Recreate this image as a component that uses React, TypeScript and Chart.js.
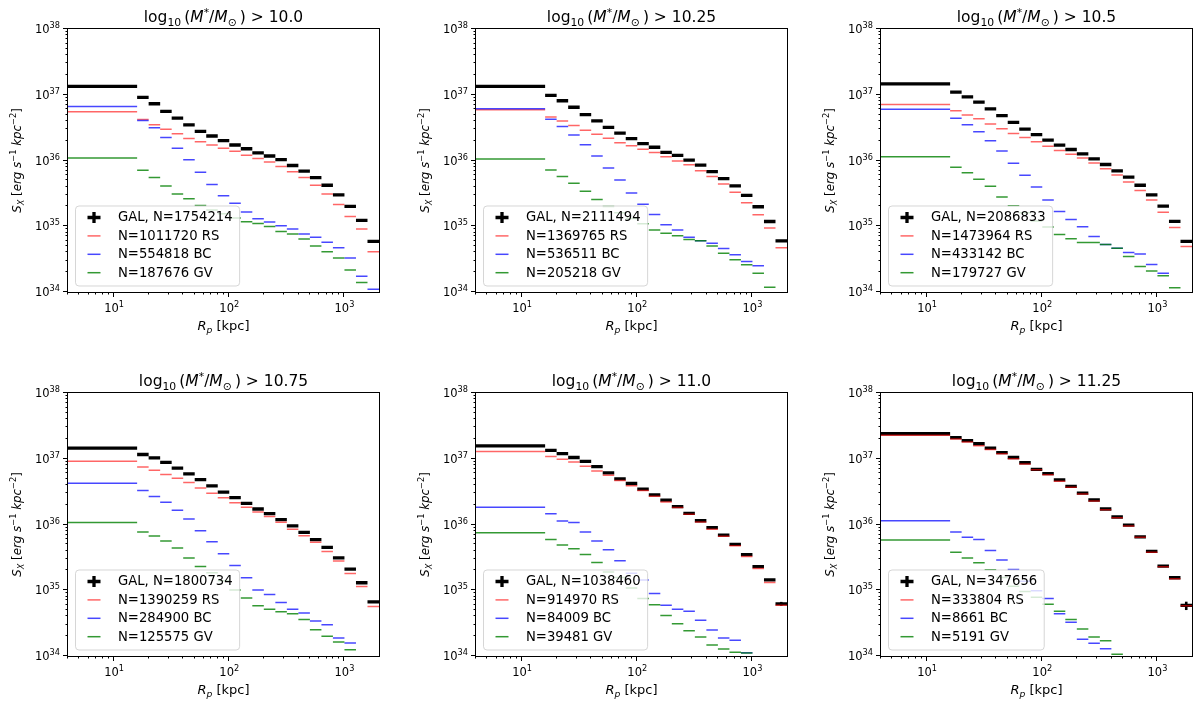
import React, { useEffect, useRef } from 'react';
import { Chart, registerables } from 'chart.js';

Chart.register(...registerables);

// radial bins (kpc); first bin starts inside the plot's left limit
const binEdges = [1, 15.85, 19.95, 25.12, 31.62, 39.81, 50.12, 63.1, 79.43, 100, 125.9, 158.5, 199.5, 251.2, 316.2, 398.1, 501.2, 631.0, 794.3, 1000, 1259, 1585, 1995];
const xLimits = [3.98, 1995];
const yLimits = [1e34, 1e38];
const xTickValues = [10, 100, 1000];
const xTickExps = ['1', '2', '3'];
const xMinorDecades = [1, 10, 100, 1000];
const yTickValues = [1e34, 1e35, 1e36, 1e37, 1e38];
const yTickExps = ['34', '35', '36', '37', '38'];

const thresholds = ['10.0', '10.25', '10.5', '10.75', '11.0', '11.25'];
const galCounts = [1754214, 2111494, 2086833, 1800734, 1038460, 347656];
const rsCounts = [1011720, 1369765, 1473964, 1390259, 914970, 333804];
const bcCounts = [554818, 536511, 433142, 284900, 84009, 8661];
const gvCounts = [187676, 205218, 179727, 125575, 39481, 5191];

// S_X per bin, erg s^-1 kpc^-2
const gal1 = [1.34e37, 9.1e36, 7.3e36, 5.6e36, 4.4e36, 3.47e36, 2.77e36, 2.36e36, 2.0e36, 1.72e36, 1.51e36, 1.31e36, 1.17e36, 1.03e36, 8.4e35, 6.9e35, 5.5e35, 4.2e35, 2.99e35, 2.0e35, 1.23e35, 5.9e34];
const rs1 = [5.5e36, 4.2e36, 3.5e36, 3.0e36, 2.56e36, 2.17e36, 1.93e36, 1.72e36, 1.53e36, 1.38e36, 1.2e36, 1.07e36, 9.5e35, 8.1e35, 6.76e35, 5.5e35, 4.2e35, 3.1e35, 2.15e35, 1.41e35, 9.1e34, 4.1e34];
const bc1 = [6.6e36, 4.07e36, 3.16e36, 2.23e36, 1.53e36, 1.03e36, 6.6e35, 4.3e35, 2.9e35, 2.24e35, 1.65e35, 1.3e35, 1.16e35, 1.02e35, 9.1e34, 7.6e34, 6.8e34, 5.7e34, 4.7e34, 3.3e34, 1.73e34, 1.1e34];
const gv1 = [1.09e36, 7.1e35, 5.5e35, 4.1e35, 3.1e35, 2.63e35, 2.07e35, 1.77e35, 1.55e35, 1.33e35, 1.17e35, 1.1e35, 9.9e34, 8.3e34, 7.6e34, 6.4e34, 5.0e34, 4.1e34, 3.3e34, 2.16e34, 1.4e34, null];

const gal2 = [1.34e37, 9.75e36, 8.1e36, 6.46e36, 5.0e36, 4.0e36, 3.2e36, 2.6e36, 2.15e36, 1.81e36, 1.59e36, 1.33e36, 1.2e36, 1.01e36, 8.5e35, 6.76e35, 5.3e35, 4.1e35, 2.94e35, 1.98e35, 1.18e35, 6.0e34];
const rs2 = [5.9e36, 4.6e36, 4.0e36, 3.4e36, 2.88e36, 2.5e36, 2.18e36, 1.87e36, 1.68e36, 1.48e36, 1.32e36, 1.14e36, 9.8e35, 8.6e35, 7.0e35, 5.7e35, 4.4e35, 3.3e35, 2.28e35, 1.49e35, 9.4e34, 4.7e34];
const bc2 = [6.1e36, 4.25e36, 3.3e36, 2.45e36, 1.74e36, 1.17e36, 7.7e35, 5.05e35, 3.2e35, 2.17e35, 1.51e35, 1.05e35, 8.8e34, 6.8e34, 6.0e34, 5.5e34, 4.6e34, 3.7e34, 2.9e34, 2.5e34, null, null];
const gv2 = [1.05e36, 7.2e35, 5.7e35, 4.5e35, 3.4e35, 2.56e35, 2.0e35, 1.6e35, 1.31e35, 1.09e35, 8.8e34, 7.85e34, 7.2e34, 6.3e34, 6.0e34, 5.0e34, 3.9e34, 3.1e34, 2.6e34, 1.93e34, 1.18e34, null];

const gal3 = [1.46e37, 1.1e37, 9.3e36, 7.7e36, 6.1e36, 4.8e36, 3.8e36, 3.0e36, 2.47e36, 2.04e36, 1.71e36, 1.47e36, 1.26e36, 1.06e36, 8.7e35, 6.95e35, 5.6e35, 4.2e35, 3.0e35, 2.03e35, 1.19e35, 5.9e34];
const rs3 = [7.1e36, 5.7e36, 4.9e36, 4.3e36, 3.6e36, 3.04e36, 2.58e36, 2.24e36, 1.93e36, 1.64e36, 1.42e36, 1.25e36, 1.09e36, 9.2e35, 7.5e35, 6.0e35, 4.7e35, 3.5e35, 2.5e35, 1.63e35, 9.6e34, 4.9e34];
const bc3 = [6.0e36, 4.4e36, 3.5e36, 2.74e36, 2.0e36, 1.39e36, 9.1e35, 5.97e35, 3.96e35, 2.5e35, 1.68e35, 1.27e35, 9.8e34, 7.0e34, 5.3e34, 4.64e34, 3.98e34, 3.8e34, 2.63e34, 1.92e34, null, null];
const gv3 = [1.14e36, 7.9e35, 6.5e35, 5.2e35, 4.05e35, 2.79e35, 2.05e35, 1.6e35, 1.2e35, 9.7e34, 7.5e34, 6.45e34, 5.66e34, 5.66e34, 5.3e34, 4.64e34, 3.47e34, 2.45e34, 2.09e34, 1.77e34, 1.16e34, null];

const gal4 = [1.45e37, 1.16e37, 1.03e37, 8.8e36, 7.2e36, 5.9e36, 4.8e36, 3.87e36, 3.1e36, 2.56e36, 2.1e36, 1.72e36, 1.46e36, 1.19e36, 9.5e35, 7.6e35, 5.9e35, 4.5e35, 3.1e35, 2.1e35, 1.3e35, 6.65e34];
const rs4 = [9.2e36, 7.5e36, 6.7e36, 5.75e36, 5.06e36, 4.35e36, 3.6e36, 3.0e36, 2.56e36, 2.15e36, 1.83e36, 1.55e36, 1.32e36, 1.08e36, 8.5e35, 6.76e35, 5.35e35, 3.9e35, 2.78e35, 1.8e35, 1.14e35, 5.65e34];
const bc4 = [4.25e36, 3.3e36, 2.66e36, 2.18e36, 1.64e36, 1.21e36, 8.05e35, 5.47e35, 3.6e35, 2.38e35, 1.55e35, 1.01e35, 8.6e34, 6.5e34, 5.15e34, 4.5e34, 3.4e34, 3.0e34, 1.88e34, 1.58e34, null, null];
const gv4 = [1.07e36, 7.7e35, 6.7e35, 5.6e35, 4.4e35, 3.1e35, 2.3e35, 1.85e35, 1.39e35, 1.01e35, 7.65e34, 5.8e34, 5.15e34, 4.7e34, 4.4e34, 3.6e34, 2.5e34, 2.0e34, 1.63e34, 1.25e34, null, null];

const gal5 = [1.57e37, 1.34e37, 1.2e37, 1.045e37, 9.1e36, 7.6e36, 6.1e36, 4.94e36, 4.2e36, 3.44e36, 2.82e36, 2.34e36, 1.87e36, 1.48e36, 1.14e36, 8.95e35, 6.9e35, 5.0e35, 3.47e35, 2.28e35, 1.44e35, 6.2e34];
const rs5 = [1.29e37, 1.08e37, 9.86e36, 8.9e36, 7.7e36, 6.5e36, 5.6e36, 4.66e36, 3.87e36, 3.28e36, 2.69e36, 2.2e36, 1.81e36, 1.43e36, 1.09e36, 8.5e35, 6.6e35, 4.75e35, 3.27e35, 2.15e35, 1.31e35, 5.9e34];
const bc5 = [1.83e36, 1.46e36, 1.13e36, 1.07e36, 7.7e35, 5.6e35, 4.13e35, 2.81e35, 1.82e35, 1.43e35, 8.9e34, 5.9e34, 5.15e34, 4.8e34, 3.5e34, 2.49e34, 1.88e34, 1.73e34, 1.12e34, null, null, null];
const gv5 = [7.5e35, 5.9e35, 4.87e35, 4.28e35, 3.5e35, 2.65e35, 1.89e35, 1.56e35, 1.08e35, 7.5e34, 6.0e34, 4.12e34, 3.1e34, 2.43e34, 1.95e34, 1.47e34, 1.28e34, 1.14e34, 1.11e34, null, null, null];

const gal6 = [2.4e37, 2.09e37, 1.88e37, 1.69e37, 1.45e37, 1.24e37, 1.045e37, 8.7e36, 6.9e36, 5.96e36, 4.77e36, 3.8e36, 3.0e36, 2.36e36, 1.72e36, 1.3e36, 9.8e35, 6.5e35, 3.9e35, 2.33e35, 1.55e35, 5.9e34];
const rs6 = [2.27e37, 2.0e37, 1.8e37, 1.57e37, 1.38e37, 1.19e37, 9.97e36, 8.3e36, 6.8e36, 5.7e36, 4.55e36, 3.7e36, 2.9e36, 2.28e36, 1.68e36, 1.27e36, 9.5e35, 6.4e35, 3.77e35, 2.28e35, 1.49e35, 5.8e34];
const bc6 = [1.14e36, 7.7e35, 6.4e35, 5.9e35, 4.04e35, 2.88e35, 2.07e35, 1.37e35, 9.8e34, 7.5e34, 4.4e34, 3.26e34, 1.8e34, 1.56e34, 1.29e34, null, null, null, null, null, null, null];
const gv6 = [5.8e35, 3.77e35, 3.1e35, 2.62e35, 2.05e35, 1.56e35, 1.15e35, 9.6e34, 7.85e34, 6.1e34, 4.8e34, 3.6e34, 2.58e34, 1.95e34, 1.7e34, 1.06e34, null, null, null, null, null, null];

// visible y error of the outermost GAL bin (only where it pokes out of the thick bar)
const galLastErrLo = [null, null, null, null, 5.8e34, 5.0e34];
const galLastErrHi = [null, null, null, null, 6.65e34, 6.7e34];

const galSeries = [gal1, gal2, gal3, gal4, gal5, gal6];
const rsSeries = [rs1, rs2, rs3, rs4, rs5, rs6];
const bcSeries = [bc1, bc2, bc3, bc4, bc5, bc6];
const gvSeries = [gv1, gv2, gv3, gv4, gv5, gv6];

// ---- layout ----
const colPlotLeft = [68, 476, 881];
const rowPlotTop = [29, 393];
const PLOT_W = 311;
const PLOT_H = 263;
const Y_AXIS_W = 68;
const PAD_TOP = 29;
const PAD_RIGHT = 9;
const X_AXIS_H = 46;
const CANVAS_W = Y_AXIS_W + PLOT_W + PAD_RIGHT;
const CANVAS_H = PAD_TOP + PLOT_H + X_AXIS_H;

const FONT = '"DejaVu Sans", sans-serif';
const RED = 'rgba(255, 0, 0, 0.6)';
const BLUE = 'rgba(0, 0, 255, 0.72)';
const GREEN = 'rgba(0, 128, 0, 0.8)';
const GAL_W = 3.3;
const SUB_W = 1.5;
const LEGEND_FONT = 13.2;

type Piece = { t: string; size: number; italic?: boolean; dy?: number };

function drawRich(ctx: CanvasRenderingContext2D, pieces: Piece[], x: number, y: number, align: 'left' | 'center' | 'right') {
  const font = (p: Piece) => `${p.italic ? 'italic ' : ''}${p.size}px ${FONT}`;
  const widths = pieces.map(p => {
    ctx.font = font(p);
    return ctx.measureText(p.t).width;
  });
  const total = widths.reduce((s, w) => s + w, 0);
  let cx = align === 'left' ? x : align === 'center' ? x - total / 2 : x - total;
  ctx.textAlign = 'left';
  ctx.textBaseline = 'alphabetic';
  pieces.forEach((p, i) => {
    ctx.font = font(p);
    ctx.fillText(p.t, cx, y + (p.dy || 0));
    cx += widths[i];
  });
}

function roundedRect(ctx: CanvasRenderingContext2D, x: number, y: number, w: number, h: number, r: number) {
  ctx.beginPath();
  ctx.moveTo(x + r, y);
  ctx.arcTo(x + w, y, x + w, y + h, r);
  ctx.arcTo(x + w, y + h, x, y + h, r);
  ctx.arcTo(x, y + h, x, y, r);
  ctx.arcTo(x, y, x + w, y, r);
  ctx.closePath();
}

function steps(values: (number | null)[]) {
  const pts: { x: number; y: number | null }[] = [];
  values.forEach((v, i) => {
    if (v == null) return;
    pts.push({ x: binEdges[i], y: v }, { x: binEdges[i + 1], y: v }, { x: binEdges[i + 1], y: null });
  });
  return pts;
}

function makeDecor(idx: number) {
  return {
    id: 'decor',
    afterDatasetsDraw(chart: any) {
      const ctx = chart.ctx as CanvasRenderingContext2D;
      const a = chart.chartArea;
      const xs = chart.scales.x;
      const ys = chart.scales.y;
      ctx.save();
      ctx.fillStyle = '#000';
      ctx.strokeStyle = '#000';
      ctx.lineWidth = 1;

      // ticks
      ctx.beginPath();
      yTickValues.forEach((v, k) => {
        const py = Math.round(ys.getPixelForValue(v)) - 0.5;
        ctx.moveTo(a.left, py);
        ctx.lineTo(a.left - 5, py);
        if (k < yTickValues.length - 1) {
          for (let m = 2; m <= 9; m++) {
            const q = Math.round(ys.getPixelForValue(v * m)) - 0.5;
            ctx.moveTo(a.left, q);
            ctx.lineTo(a.left - 2.5, q);
          }
        }
      });
      xMinorDecades.forEach(d => {
        for (let m = 2; m <= 9; m++) {
          const v = d * m;
          if (v < xLimits[0] || v > xLimits[1]) continue;
          const q = Math.round(xs.getPixelForValue(v)) - 0.5;
          ctx.moveTo(q, a.bottom);
          ctx.lineTo(q, a.bottom + 2.5);
        }
      });
      xTickValues.forEach(v => {
        const px = Math.round(xs.getPixelForValue(v)) - 0.5;
        ctx.moveTo(px, a.bottom);
        ctx.lineTo(px, a.bottom + 5);
      });
      ctx.stroke();

      // frame
      ctx.strokeRect(a.left - 0.5, a.top - 0.5, a.right - a.left + 1, a.bottom - a.top + 1);

      // tick labels
      yTickValues.forEach((v, k) => {
        const py = ys.getPixelForValue(v);
        drawRich(ctx, [{ t: '10', size: 11.5 }, { t: yTickExps[k], size: 8.2, dy: -5 }], a.left - 8, py + 4.2, 'right');
      });
      xTickValues.forEach((v, k) => {
        const px = xs.getPixelForValue(v);
        drawRich(ctx, [{ t: '10', size: 11.5 }, { t: xTickExps[k], size: 8.2, dy: -5 }], px, a.bottom + 20, 'center');
      });

      // title
      const cxm = (a.left + a.right) / 2;
      drawRich(ctx, [
        { t: 'log', size: 15.5 },
        { t: '10', size: 10.8, dy: 3.8 },
        { t: '\u2009(', size: 15.5 },
        { t: 'M', size: 15.5, italic: true },
        { t: '*', size: 10.8, dy: -6 },
        { t: '/', size: 15.5 },
        { t: 'M', size: 15.5, italic: true },
        { t: '\u2299', size: 10.8, dy: 3.5 },
        { t: '\u2009)', size: 15.5 },
        { t: ' > ' + thresholds[idx], size: 15.5 },
      ], cxm, a.top - 7, 'center');

      // x label
      drawRich(ctx, [
        { t: 'R', size: 13, italic: true },
        { t: 'p', size: 9.2, italic: true, dy: 3 },
        { t: ' [kpc]', size: 13 },
      ], cxm, a.bottom + 38, 'center');

      // y label
      ctx.save();
      ctx.translate(a.left - 47, (a.top + a.bottom) / 2);
      ctx.rotate(-Math.PI / 2);
      drawRich(ctx, [
        { t: 'S', size: 11.8, italic: true },
        { t: 'X', size: 8.3, italic: true, dy: 3 },
        { t: ' [', size: 11.8 },
        { t: 'erg s', size: 11.8, italic: true },
        { t: '\u22121', size: 8.3, dy: -4.8 },
        { t: ' kpc', size: 11.8, italic: true },
        { t: '\u22122', size: 8.3, dy: -4.8 },
        { t: ']', size: 11.8 },
      ], 0, 0, 'center');
      ctx.restore();

      // legend
      const labels = [
        `GAL, N=${galCounts[idx]}`,
        `N=${rsCounts[idx]} RS`,
        `N=${bcCounts[idx]} BC`,
        `N=${gvCounts[idx]} GV`,
      ];
      const colors = ['#000', RED, BLUE, GREEN];
      ctx.font = `${LEGEND_FONT}px ${FONT}`;
      const maxW = Math.max(...labels.map(l => ctx.measureText(l).width));
      const bh = 80;
      const bx = a.left + 7.5;
      const by = a.bottom - 6 - bh;
      const bw = 42.5 + maxW + 7;
      roundedRect(ctx, bx, by, bw, bh, 3.5);
      ctx.fillStyle = 'rgba(255,255,255,0.8)';
      ctx.fill();
      ctx.strokeStyle = 'rgba(204,204,204,0.8)';
      ctx.lineWidth = 1;
      ctx.stroke();
      labels.forEach((l, r) => {
        const cy = by + 11.5 + r * 18.4;
        ctx.strokeStyle = colors[r];
        ctx.lineCap = 'butt';
        ctx.lineWidth = r === 0 ? GAL_W : SUB_W;
        ctx.beginPath();
        ctx.moveTo(bx + 12, cy);
        ctx.lineTo(bx + 25, cy);
        if (r === 0) {
          ctx.moveTo(bx + 18.5, cy - 5.5);
          ctx.lineTo(bx + 18.5, cy + 5.5);
        }
        ctx.stroke();
        ctx.fillStyle = '#000';
        ctx.font = `${LEGEND_FONT}px ${FONT}`;
        ctx.textAlign = 'left';
        ctx.textBaseline = 'middle';
        ctx.fillText(l, bx + 42.5, cy + 0.5);
      });
      ctx.restore();
    },
  };
}

function Panel({ idx }: { idx: number }) {
  const canvasRef = useRef<HTMLCanvasElement>(null);

  useEffect(() => {
    if (!canvasRef.current) return;
    const lastLo = galLastErrLo[idx];
    const lastHi = galLastErrHi[idx];
    const last = binEdges.length - 2;
    const errPts = lastLo != null && lastHi != null
      ? [
          { x: Math.sqrt(binEdges[last] * binEdges[last + 1]), y: lastLo },
          { x: Math.sqrt(binEdges[last] * binEdges[last + 1]), y: lastHi },
        ]
      : [];
    const line = (data: any[], color: string, width: number, order: number) => ({
      data,
      borderColor: color,
      borderWidth: width,
      borderCapStyle: 'butt' as const,
      pointRadius: 0,
      pointHoverRadius: 0,
      fill: false,
      tension: 0,
      spanGaps: false,
      clip: 0,
      order,
    });

    const chart = new Chart(canvasRef.current, {
      type: 'line',
      data: {
        datasets: [
          line(steps(galSeries[idx]), '#000', GAL_W, 6),
          line(errPts, '#000', 2.6, 5),
          line(steps(rsSeries[idx]), RED, SUB_W, 3),
          line(steps(bcSeries[idx]), BLUE, SUB_W, 2),
          line(steps(gvSeries[idx]), GREEN, SUB_W, 1),
        ] as any,
      },
      options: {
        animation: false,
        responsive: false,
        maintainAspectRatio: false,
        events: [],
        layout: { padding: { top: PAD_TOP, right: PAD_RIGHT, left: 0, bottom: 0 } },
        plugins: {
          legend: { display: false },
          tooltip: { enabled: false },
          title: { display: false },
        },
        scales: {
          x: {
            type: 'logarithmic',
            min: xLimits[0],
            max: xLimits[1],
            ticks: { display: false },
            grid: { display: false },
            border: { display: false },
            afterFit: (s: any) => { s.height = X_AXIS_H; },
          },
          y: {
            type: 'logarithmic',
            min: yLimits[0],
            max: yLimits[1],
            ticks: { display: false },
            grid: { display: false },
            border: { display: false },
            afterFit: (s: any) => { s.width = Y_AXIS_W; },
          },
        },
      },
      plugins: [makeDecor(idx)],
    });

    return () => {
      chart.destroy();
    };
  }, [idx]);

  const col = idx % 3;
  const row = Math.floor(idx / 3);
  return (
    <canvas
      ref={canvasRef}
      width={CANVAS_W}
      height={CANVAS_H}
      style={{
        position: 'absolute',
        left: colPlotLeft[col] - Y_AXIS_W,
        top: rowPlotTop[row] - PAD_TOP,
        width: CANVAS_W,
        height: CANVAS_H,
      }}
    />
  );
}

export default function App() {
  return (
    <div style={{ position: 'absolute', left: 0, top: 0, width: 1200, height: 707, background: '#fff', overflow: 'hidden' }}>
      {thresholds.map((_, i) => (
        <Panel key={i} idx={i} />
      ))}
    </div>
  );
}
